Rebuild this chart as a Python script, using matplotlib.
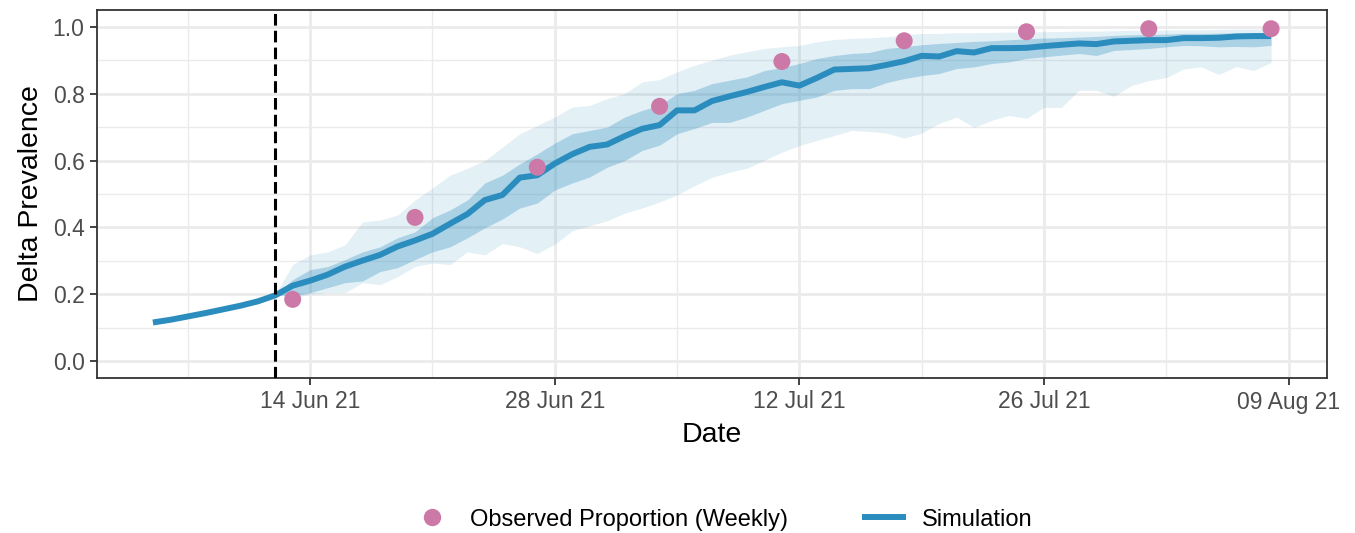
import matplotlib
matplotlib.use("Agg")
import matplotlib.pyplot as plt
import matplotlib.dates as mdates
from matplotlib.lines import Line2D
import numpy as np
import pandas as pd

plt.rcParams['font.family'] = ['Liberation Sans', 'DejaVu Sans']

# ---- data ----
sim_start = "2021-06-05"
sim_values = [0.116, 0.124, 0.134, 0.144, 0.155, 0.166, 0.179, 0.197,
              0.226, 0.241, 0.259, 0.283, 0.301, 0.318, 0.343, 0.361,
              0.381, 0.411, 0.440, 0.482, 0.497, 0.549, 0.556, 0.591,
              0.619, 0.641, 0.648, 0.673, 0.695, 0.706, 0.750, 0.750,
              0.778, 0.792, 0.805, 0.820, 0.834, 0.824, 0.847, 0.872,
              0.874, 0.876, 0.886, 0.897, 0.913, 0.911, 0.927, 0.923,
              0.936, 0.936, 0.937, 0.942, 0.946, 0.950, 0.948, 0.956,
              0.958, 0.960, 0.960, 0.966, 0.966, 0.967, 0.971, 0.972, 0.972]

band_start = "2021-06-12"
hi95 = [0.200, 0.289, 0.318, 0.327, 0.348, 0.417, 0.422, 0.437, 0.482, 0.518,
        0.556, 0.577, 0.600, 0.640, 0.680, 0.705, 0.730, 0.760, 0.765, 0.785,
        0.800, 0.835, 0.842, 0.865, 0.885, 0.900, 0.915, 0.925, 0.935, 0.940,
        0.944, 0.955, 0.962, 0.965, 0.967, 0.970, 0.975, 0.980, 0.980, 0.982,
        0.982, 0.983, 0.984, 0.984, 0.985, 0.986, 0.987, 0.987, 0.988, 0.989,
        0.990, 0.990, 0.991, 0.991, 0.992, 0.993, 0.993, 0.994]
lo95 = [0.200, 0.190, 0.200, 0.205, 0.205, 0.235, 0.229, 0.253, 0.283, 0.294,
        0.289, 0.327, 0.318, 0.352, 0.342, 0.322, 0.350, 0.390, 0.405, 0.420,
        0.443, 0.458, 0.476, 0.497, 0.525, 0.550, 0.565, 0.577, 0.601, 0.625,
        0.645, 0.660, 0.675, 0.690, 0.687, 0.682, 0.667, 0.682, 0.711, 0.730,
        0.699, 0.720, 0.735, 0.726, 0.759, 0.759, 0.810, 0.810, 0.792, 0.824,
        0.839, 0.848, 0.874, 0.880, 0.857, 0.881, 0.869, 0.893]
hi50 = [0.200, 0.244, 0.274, 0.283, 0.304, 0.327, 0.342, 0.369, 0.387, 0.429,
        0.452, 0.482, 0.533, 0.556, 0.590, 0.620, 0.652, 0.680, 0.690, 0.700,
        0.730, 0.750, 0.765, 0.800, 0.810, 0.830, 0.840, 0.850, 0.869, 0.878,
        0.890, 0.905, 0.914, 0.920, 0.923, 0.935, 0.940, 0.946, 0.950, 0.953,
        0.956, 0.958, 0.961, 0.964, 0.966, 0.967, 0.969, 0.971, 0.974, 0.976,
        0.977, 0.978, 0.980, 0.980, 0.981, 0.981, 0.982, 0.982]
lo50 = [0.200, 0.195, 0.205, 0.220, 0.235, 0.240, 0.268, 0.280, 0.304, 0.327,
        0.342, 0.369, 0.399, 0.425, 0.458, 0.473, 0.512, 0.533, 0.551, 0.580,
        0.600, 0.630, 0.646, 0.680, 0.696, 0.714, 0.714, 0.730, 0.750, 0.770,
        0.780, 0.790, 0.810, 0.815, 0.815, 0.833, 0.845, 0.854, 0.860, 0.875,
        0.880, 0.890, 0.895, 0.905, 0.910, 0.915, 0.920, 0.914, 0.929, 0.932,
        0.935, 0.940, 0.944, 0.943, 0.940, 0.941, 0.940, 0.944]

obs_dates = ["2021-06-13", "2021-06-20", "2021-06-27", "2021-07-04", "2021-07-11",
             "2021-07-18", "2021-07-25", "2021-08-01", "2021-08-08"]
obs_values = [0.185, 0.430, 0.580, 0.762, 0.896, 0.958, 0.985, 0.994, 0.994]

intervention_date = "2021-06-12"
x_ticks = ["2021-06-14", "2021-06-28", "2021-07-12", "2021-07-26", "2021-08-09"]
x_minor = ["2021-06-07", "2021-06-21", "2021-07-05", "2021-07-19", "2021-08-02"]
y_ticks = [0.0, 0.2, 0.4, 0.6, 0.8, 1.0]
y_minor = [0.1, 0.3, 0.5, 0.7, 0.9]

# ---- build ----
sim_dates = pd.date_range(sim_start, periods=len(sim_values), freq="D")
band_dates = pd.date_range(band_start, periods=len(hi95), freq="D")
obs_dt = pd.to_datetime(obs_dates)

line_col = "#2b8cbe"
pt_col = "#cc79a7"
grid_col = "#ebebeb"

fig = plt.figure(figsize=(13.55, 5.33), dpi=100)
ax = fig.add_axes([97/1355, 1-378/533, (1327-97)/1355, (378-10)/533])

# grid
for y in y_ticks:
    ax.axhline(y, color=grid_col, lw=2.0, zorder=0)
for y in y_minor:
    ax.axhline(y, color=grid_col, lw=1.0, zorder=0)
for d in x_ticks:
    ax.axvline(pd.Timestamp(d), color=grid_col, lw=2.0, zorder=0)
for d in x_minor:
    ax.axvline(pd.Timestamp(d), color=grid_col, lw=1.0, zorder=0)

ax.fill_between(band_dates, lo95, hi95, color=line_col, alpha=0.13, lw=0, zorder=1)
ax.fill_between(band_dates, lo50, hi50, color=line_col, alpha=0.30, lw=0, zorder=2)
ax.plot(sim_dates, sim_values, color=line_col, lw=4.3, zorder=3, solid_capstyle='butt')
ax.axvline(pd.Timestamp(intervention_date), color="black", lw=2.2, ls=(0, (3.8, 1.7)), zorder=4)
ax.scatter(obs_dt, obs_values, s=150, color=pt_col, zorder=5, edgecolors='none')

span = sim_dates[-1] - sim_dates[0]
ax.set_xlim(sim_dates[0] - span * 0.05, sim_dates[-1] + span * 0.05)
ax.set_ylim(-0.05, 1.05)

ax.set_xticks(pd.to_datetime(x_ticks))
ax.xaxis.set_major_formatter(mdates.DateFormatter("%d %b %y"))
ax.set_yticks(y_ticks)
ax.set_yticklabels([f"{v:.1f}" for v in y_ticks])
ax.tick_params(axis='both', which='major', length=5, width=1.3, color="#333333",
               labelsize=16.5, labelcolor="#4d4d4d", pad=4)
for s in ax.spines.values():
    s.set_color("#333333")
    s.set_linewidth(1.3)

ax.set_xlabel("Date", fontsize=20.5, color="black", labelpad=6)
ax.set_ylabel("Delta Prevalence", fontsize=20.5, color="black", labelpad=6)

handles = [
    Line2D([], [], marker='o', ls='none', color=pt_col, markersize=11.5),
    Line2D([], [], color=line_col, lw=4.3),
]
fig.legend(handles, ["Observed Proportion (Weekly)", "Simulation"], loc="center",
           bbox_to_anchor=(0.5335, 0.025), ncol=2, frameon=False, fontsize=17,
           handlelength=1.6, columnspacing=3.25, handletextpad=0.8)

fig.savefig("out.png", dpi=100)
